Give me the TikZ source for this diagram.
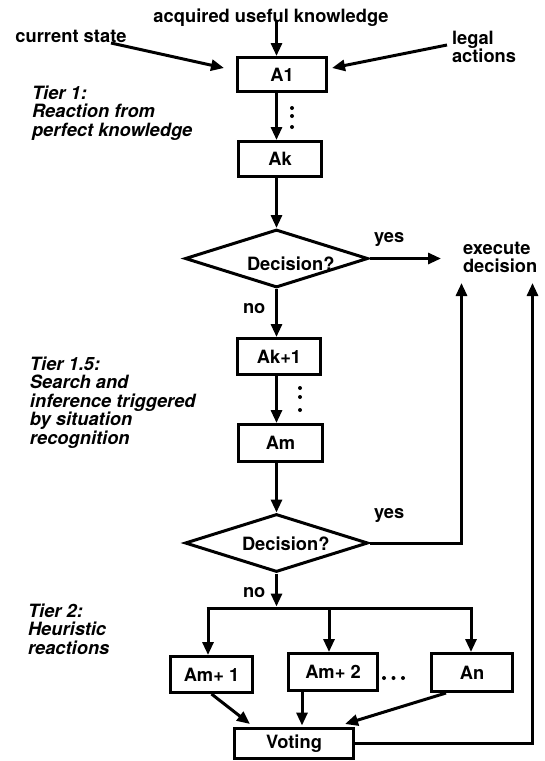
\documentclass[tikz,border=0pt]{standalone}
\usepackage{fontspec}
\setmainfont{TeX Gyre Heros}
\usetikzlibrary{shapes.geometric,arrows.meta}
\begin{document}
\begin{tikzpicture}[x=1pt,y=-1pt,
  font=\fontsize{18.3}{18.5}\selectfont\bfseries,
  every node/.style={inner sep=0pt, outer sep=0pt},
  box/.style={draw, line width=3pt, rectangle, outer sep=1.5pt},
  dia/.style={draw, line width=3pt, diamond, outer sep=1.5pt, minimum width=183pt, minimum height=58pt},
  ln/.style={line width=3pt},
  arr/.style={line width=3pt, -{Triangle[length=13pt,width=11pt]}},
  lab/.style={anchor=base west},
  tier/.style={anchor=base west, font=\fontsize{18.3}{18.5}\selectfont\bfseries\itshape},
  dotm/.style={fill, circle, minimum size=4pt}
]
\useasboundingbox (0,0) rectangle (545,761);

% texts
\node[anchor=base] (akn) at (271,22.5) {acquired useful knowledge};
\node[lab] (cs) at (15.5,42) {current state};
\node[lab] (la) at (452,44) {\vtop{\hbox{legal}\hbox{actions}}};
\node[tier] (t1) at (32,99) {\vtop{\hbox{Tier 1:}\hbox{Reaction from}\hbox{perfect knowledge}}};
\node[tier] (t15) at (30,370) {\vtop{\hbox{Tier 1.5:}\hbox{Search and}\hbox{inference triggered}\hbox{by situation}\hbox{recognition}}};
\node[tier] (t2) at (28,617) {\vtop{\hbox{Tier 2:}\hbox{Heuristic}\hbox{reactions}}};
\node[lab] (exd) at (463,254) {\vtop{\hbox{execute}\hbox{decision}}};

% boxes
\node[box, minimum width=89.5pt, minimum height=34pt] (A1) at (282,74.5) {A1};
\node[box, minimum width=83pt, minimum height=35pt] (Ak) at (280,159) {Ak};
\node[dia] (d1) at (276.5,258.5) {};
\node[lab] (dq1) at (247,270) {Decision?};
\node[lab] (yes1) at (374,242) {yes};
\node[lab] (no1) at (243,313) {no};
\node[box, minimum width=82.5pt, minimum height=36pt] (Ak1) at (279,356.5) {Ak+1};
\node[box, minimum width=84pt, minimum height=37pt] (Am) at (280.5,443) {Am};
\node[dia] (d2) at (276.5,543) {};
\node[lab] (dq2) at (242,550) {Decision?};
\node[lab] (yes2) at (374,518) {yes};
\node[lab] (no2) at (243,597) {no};
\node[box, minimum width=82pt, minimum height=36pt] (Am1) at (211.5,674.5) {Am+ 1};
\node[box, minimum width=89pt, minimum height=37pt] (Am2) at (333,672) {Am+ 2};
\node[box, minimum width=81pt, minimum height=38pt] (An) at (472,672.5) {An};
\node[box, minimum width=119pt, minimum height=30pt] (V) at (294,743.5) {Voting};

% dots
\node[dotm] (p1) at (292,108) {};
\node[dotm] (p2) at (292,116) {};
\node[dotm] (p3) at (292,127) {};
\node[dotm] (q1) at (300,388) {};
\node[dotm] (q2) at (300,397) {};
\node[dotm] (q3) at (300,410) {};
\node[dotm] (r1) at (384,678) {};
\node[dotm] (r2) at (393.5,678) {};
\node[dotm] (r3) at (403,678) {};

% coordinates
\coordinate (kin) at (276.5,20);
\coordinate (csA) at (111,43);
\coordinate (csB) at (224,68);
\coordinate (laA) at (447,45);
\coordinate (laB) at (332,68);
\coordinate (ex) at (441,258.5);
\coordinate (up1) at (461.5,283);
\coordinate (up2) at (532.5,283);
\coordinate (barL) at (208,608);
\coordinate (barM) at (329,608);
\coordinate (barR) at (471,608);
\coordinate (barT) at (276.5,606.5);
\coordinate (vA) at (250,724);
\coordinate (vB) at (302,725.5);
\coordinate (vC) at (345,724);
\coordinate (anS) at (446,693);

% connectors
\draw[arr] (kin) -- (kin |- A1.north);
\draw[arr] (csA) -- (csB);
\draw[arr] (laA) -- (laB);
\draw[arr] (A1.south -| kin) -- (Ak.north -| kin);
\draw[arr] (Ak.south -| d1.north) -- (d1.north);
\draw[arr] (d1.east) -- (ex);
\draw[arr] (d1.south) -- (d1.south |- Ak1.north);
\draw[arr] (Ak1.south -| kin) -- (Am.north -| kin);
\draw[arr] (Am.south -| d2.north) -- (d2.north);
\draw[arr] (d2.east) -| (up1);
\draw[arr] (d2.south) -- (barT);
\draw[ln] ([xshift=-1.5pt]barL) -- ([xshift=1.5pt]barR);
\draw[arr] (barL) -- (barL |- Am1.north);
\draw[arr] (barM) -- (barM |- Am2.north);
\draw[arr] (barR) -- (barR |- An.north);
\draw[arr] (Am1.south) -- (vA);
\draw[arr] (Am2.south -| vB) -- (vB);
\draw[arr] (anS) -- (vC);
\draw[arr] (V.east) -| (up2);
\end{tikzpicture}
\end{document}
